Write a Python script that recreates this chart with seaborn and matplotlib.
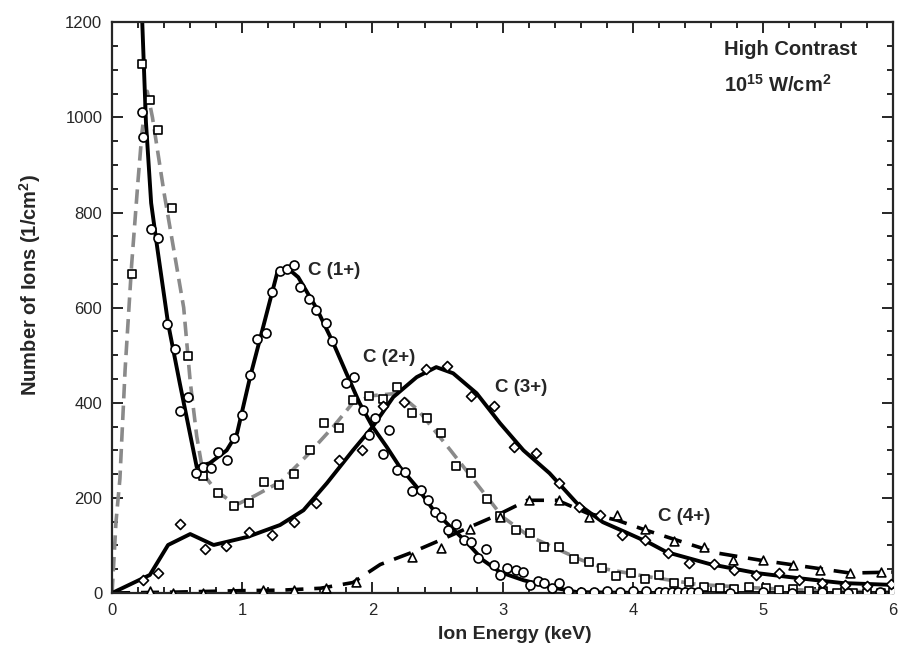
import numpy as np
import pandas as pd
import seaborn as sns
import matplotlib.pyplot as plt
from matplotlib.ticker import MultipleLocator

# C (1+) : circles, solid fit
c1_x = [0.23, 0.24, 0.30, 0.35, 0.42, 0.48, 0.52, 0.58, 0.645, 0.70, 0.76, 0.81, 0.88, 0.94, 1.00,
        1.06, 1.11, 1.18, 1.23, 1.29, 1.34, 1.40, 1.44, 1.51, 1.57, 1.64, 1.69, 1.80, 1.86, 1.93,
        1.97, 2.02, 2.08, 2.13, 2.19, 2.25, 2.30, 2.37, 2.43, 2.48, 2.53, 2.58, 2.64, 2.70, 2.76,
        2.81, 2.87, 2.93, 2.98, 3.03, 3.10, 3.16, 3.21, 3.27, 3.32, 3.38, 3.43, 3.50, 3.60, 3.70,
        3.80, 3.90, 4.00, 4.10, 4.20, 4.25, 4.30, 4.35, 4.40, 4.45, 4.50, 4.75, 5.00, 5.22, 5.45,
        5.65, 5.90]
c1_y = [1011, 958, 765, 746, 565, 513, 383, 412, 252, 265, 263, 296, 280, 326, 374,
        458, 534, 547, 633, 677, 681, 689, 643, 618, 595, 567, 530, 441, 454, 385,
        332, 367, 292, 342, 258, 254, 214, 216, 195, 170, 160, 132, 145, 111, 107,
        74, 92, 59, 38, 53, 48, 44, 17, 25, 21, 10, 21, 5, 3, 2,
        4, 3, 5, 4, 2, 2, 2, 2, 2, 2, 2, 0, 2, 0, 3,
        0, 2]
f1_x = [0.225, 0.26, 0.30, 0.35, 0.43, 0.52, 0.65, 0.75, 0.88, 0.96, 1.06, 1.16, 1.27, 1.34, 1.43,
        1.57, 1.70, 1.80, 1.90, 2.00, 2.11, 2.21, 2.34, 2.47, 2.60, 2.73, 2.85, 2.98, 3.16, 3.36,
        3.57, 3.8, 4.2, 4.6, 5.0, 5.5, 6.0]
f1_y = [1250, 990, 820, 720, 567, 441, 265, 273, 300, 336, 454, 559, 675, 685, 664,
        599, 525, 462, 400, 350, 307, 265, 223, 174, 139, 105, 69, 44, 27, 13,
        2, 1, 0, 0, 0, 0, 0]

# C (2+) : squares, grey dashed fit
c2_x = [0.155, 0.23, 0.29, 0.35, 0.46, 0.58, 0.70, 0.81, 0.94, 1.05, 1.17, 1.28, 1.40, 1.52, 1.63,
        1.74, 1.85, 1.97, 2.08, 2.19, 2.30, 2.42, 2.53, 2.64, 2.76, 2.88, 2.98, 3.10, 3.21, 3.32,
        3.43, 3.55, 3.66, 3.76, 3.87, 3.99, 4.09, 4.20, 4.32, 4.43, 4.55, 4.67, 4.78, 4.89, 5.02,
        5.12, 5.23, 5.35, 5.46, 5.57, 5.69, 5.80, 5.91, 6.0]
c2_y = [670, 1112, 1036, 973, 809, 498, 246, 210, 183, 189, 233, 227, 250, 300, 357,
        347, 405, 414, 408, 433, 378, 368, 336, 267, 252, 198, 162, 132, 126, 97,
        97, 71, 65, 53, 36, 42, 30, 38, 21, 23, 13, 10, 8, 13, 10,
        6, 8, 4, 4, 0, 0, 0, 0, 2]
f2_x = [0.0, 0.03, 0.06, 0.10, 0.15, 0.20, 0.23, 0.27, 0.31, 0.40, 0.50, 0.55, 0.60, 0.65, 0.70,
        0.80, 0.95, 1.10, 1.30, 1.50, 1.70, 1.85, 2.00, 2.20, 2.35, 2.60, 2.80, 3.00, 3.20, 3.40,
        3.60, 3.80, 4.10, 4.50, 5.00, 5.50, 6.00]
f2_y = [0, 150, 240, 470, 690, 870, 970, 1055, 1000, 840, 680, 600, 445, 330, 250,
        215, 185, 205, 235, 290, 350, 400, 415, 420, 385, 300, 230, 160, 120, 95,
        70, 50, 35, 18, 10, 4, 2]

# C (3+) : diamonds, solid fit
c3_x = [0.24, 0.35, 0.52, 0.71, 0.875, 1.05, 1.23, 1.40, 1.57, 1.74, 1.92, 2.08, 2.24, 2.41, 2.57,
        2.76, 2.93, 3.09, 3.26, 3.43, 3.59, 3.75, 3.92, 4.09, 4.27, 4.43, 4.62, 4.78, 4.95, 5.12,
        5.28, 5.45, 5.63, 5.80, 5.98]
c3_y = [27, 42, 145, 92, 99, 128, 122, 149, 189, 280, 300, 394, 401, 471, 477,
        414, 393, 307, 294, 231, 181, 165, 121, 112, 84, 63, 61, 48, 38, 42,
        27, 21, 17, 15, 19]
f3_x = [0.0, 0.29, 0.43, 0.60, 0.78, 1.04, 1.29, 1.47, 1.65, 1.85, 2.00, 2.16, 2.34, 2.49, 2.62,
        2.80, 2.98, 3.16, 3.36, 3.57, 3.77, 3.96, 4.13, 4.26, 4.59, 4.95, 5.28, 5.61, 6.0]
f3_y = [0, 38, 101, 124, 101, 118, 143, 174, 231, 300, 349, 412, 454, 475, 462,
        420, 357, 300, 252, 189, 149, 126, 105, 86, 61, 42, 31, 21, 17]

# C (4+) : triangles, black dashed fit
c4_x = [0.29, 0.47, 0.70, 0.93, 1.16, 1.40, 1.64, 1.87, 2.30, 2.53, 2.75, 2.98, 3.20, 3.43, 3.66,
        3.88, 4.09, 4.32, 4.55, 4.77, 5.00, 5.23, 5.44, 5.67, 5.91]
c4_y = [4, 0, 0, 2, 6, 6, 10, 23, 76, 94, 135, 160, 195, 195, 160,
        164, 134, 109, 97, 69, 69, 59, 48, 42, 44]
f4_x = [0.0, 0.5, 1.0, 1.3, 1.6, 1.85, 2.06, 2.29, 2.52, 2.75, 2.96, 3.19, 3.42, 3.65, 3.88,
        4.08, 4.34, 4.65, 4.98, 5.34, 5.67, 6.0]
f4_y = [0, 2, 5, 6, 10, 22, 60, 84, 111, 139, 164, 195, 195, 168, 153,
        134, 111, 84, 69, 55, 42, 44]

sns.set_style("ticks")
plt.rcParams['font.family'] = ['Liberation Sans', 'DejaVu Sans']
plt.rcParams['mathtext.fontset'] = 'custom'
plt.rcParams['mathtext.rm'] = 'Liberation Sans'
plt.rcParams['mathtext.bf'] = 'Liberation Sans:bold'

fig = plt.figure(figsize=(9.04, 6.56), dpi=100)
ax = fig.add_axes([0.124, 0.096, 0.864, 0.870])

# fitted curves
sns.lineplot(x=f2_x, y=f2_y, sort=False, estimator=None, color='#8a8a8a', linewidth=2.6,
             linestyle=(0, (4, 2)), ax=ax, zorder=2)
sns.lineplot(x=f4_x, y=f4_y, sort=False, estimator=None, color='black', linewidth=2.6,
             linestyle=(0, (5, 3)), ax=ax, zorder=2)
sns.lineplot(x=f1_x, y=f1_y, sort=False, estimator=None, color='black', linewidth=2.8, ax=ax, zorder=2)
sns.lineplot(x=f3_x, y=f3_y, sort=False, estimator=None, color='black', linewidth=2.8, ax=ax, zorder=2)

# data points
mk = dict(facecolor='white', edgecolor='black', linewidth=1.2, zorder=3, ax=ax, legend=False)
sns.scatterplot(x=c2_x, y=c2_y, marker='s', s=38, **mk)
sns.scatterplot(x=c4_x, y=c4_y, marker='^', s=40, **mk)
sns.scatterplot(x=c3_x, y=c3_y, marker='D', s=26, **mk)
sns.scatterplot(x=c1_x, y=c1_y, marker='o', s=42, **mk)

ax.set_xlim(0, 6)
ax.set_ylim(0, 1200)
ax.xaxis.set_major_locator(MultipleLocator(1))
ax.xaxis.set_minor_locator(MultipleLocator(0.2))
ax.yaxis.set_major_locator(MultipleLocator(200))
ax.yaxis.set_minor_locator(MultipleLocator(50))
ax.tick_params(which='both', direction='in', top=True, right=True, width=1.4, labelsize=12)
ax.tick_params(which='major', length=8, pad=7)
ax.tick_params(which='minor', length=4)
for sp in ax.spines.values():
    sp.set_linewidth(1.6)
    sp.set_visible(True)

ax.set_xlabel('Ion Energy (keV)', fontsize=14, fontweight='bold')
ax.set_ylabel(r'Number of Ions (1/cm$^\mathbf{2}$)', fontsize=14.5, fontweight='bold')
ax.xaxis.set_label_coords(0.515, -0.058)
ax.yaxis.set_label_coords(-0.088, 0.54)

lab = dict(fontsize=13.5, fontweight='bold', va='center', ha='left')
ax.text(1.505, 679, 'C (1+)', **lab)
ax.text(1.93, 496, 'C (2+)', **lab)
ax.text(2.94, 433, 'C (3+)', **lab)
ax.text(4.19, 160, 'C (4+)', **lab)
ax.text(4.70, 1143, 'High Contrast', fontsize=14.5, fontweight='bold', va='center', ha='left')
ax.text(4.70, 1068, r'10$^\mathbf{15}$ W/cm$^\mathbf{2}$', fontsize=14.5, fontweight='bold',
        va='center', ha='left')

fig.savefig('out.png', dpi=100)
